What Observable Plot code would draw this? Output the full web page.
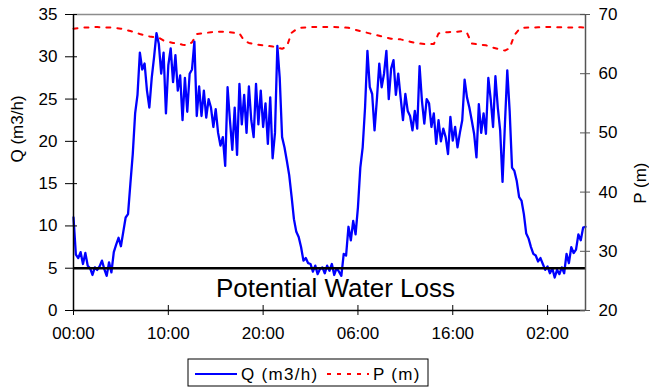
<!DOCTYPE html>
<html><head><meta charset="utf-8">
<script src="https://cdn.jsdelivr.net/npm/d3@7"></script>
<script src="https://cdn.jsdelivr.net/npm/@observablehq/plot@0.6"></script>
<style>
body{margin:0;background:#fff;font-family:"Liberation Sans",Arial,sans-serif;}
#chart svg{display:block;}
#legend{display:block;margin-left:187px;margin-top:2px;}
</style></head><body>
<div id="chart"></div>
<svg id="legend" width="243" height="30"></svg>
<script>
// Flow Q (m3/h), one reading every 15 minutes, from 00:00 on day 1 to 06:00 on day 3
const qStepHours = 0.25;
const qValues = [
 11.0,6.6,6.2,6.9,5.5,6.8,5.3,5.0,4.2,5.1,4.8,5.2,5.9,4.9,4.1,5.7,4.5,6.9,7.8,8.6,
 7.6,9.3,11.0,11.4,15.0,18.5,23.3,25.5,30.5,28.5,29.2,26.0,24.0,27.5,30.0,32.8,31.5,28.0,30.5,23.3,
 29.0,31.0,27.0,30.2,26.0,27.8,22.5,27.5,23.5,28.0,28.5,31.8,23.0,26.5,23.0,26.0,22.8,25.0,24.0,21.7,
 23.8,21.0,19.5,20.5,17.1,26.4,22.5,19.0,24.0,18.4,26.8,22.0,25.5,21.0,26.5,22.5,20.5,26.8,22.0,26.0,
 21.7,24.5,19.7,25.2,18.0,21.0,31.3,27.5,20.5,19.3,17.7,16.0,13.5,10.8,9.3,8.7,7.5,5.9,6.2,5.6,
 5.5,4.6,5.3,4.3,4.9,5.1,4.4,5.3,4.7,5.5,4.2,5.0,4.6,4.1,6.7,6.5,9.9,8.3,10.6,9.0,
 12.2,16.9,19.3,24.0,30.7,26.4,25.6,21.3,25.0,29.2,26.4,28.0,30.7,25.0,28.6,29.6,25.5,28.0,25.2,22.5,
 25.6,23.6,23.0,21.3,23.6,21.5,28.9,24.8,22.1,25.0,24.5,21.7,23.3,19.7,22.5,20.0,21.5,20.5,18.5,22.9,
 20.1,21.7,19.3,21.0,22.5,27.3,25.2,24.0,22.5,20.9,18.1,24.4,21.0,23.3,20.9,27.5,25.0,21.7,27.7,24.0,
 21.3,15.2,22.0,28.4,23.6,16.9,16.5,15.3,13.4,13.0,11.4,9.1,8.5,7.5,6.7,6.5,5.8,6.2,5.5,4.8,
 5.2,4.4,5.0,3.9,4.8,4.3,5.1,4.4,6.7,5.6,7.5,6.8,7.2,9.0,8.3,9.8,9.9
];
// Pressure P (m), one reading every 30 minutes
const pStepHours = 0.5;
const pValues = [
 67.6,67.7,67.8,67.8,67.9,67.9,67.8,67.8,67.8,67.7,67.6,67.4,67.2,67.0,66.7,66.5,66.3,66.2,66.1,65.6,
 65.4,65.2,65.1,64.9,64.8,65.3,66.7,66.8,66.9,67.0,67.1,67.1,67.1,67.0,66.9,66.8,65.6,65.2,65.0,64.9,
 64.8,64.7,64.6,64.4,64.2,64.6,66.9,67.5,67.75,67.8,67.9,67.9,67.9,67.9,67.9,67.9,67.85,67.8,67.75,67.5,
 67.3,67.1,66.9,66.7,66.5,66.3,66.1,65.9,65.9,65.8,65.6,65.4,65.2,65.1,65.0,65.0,65.0,66.8,67.0,67.0,
 67.1,67.1,67.2,66.9,65.1,65.0,64.9,64.8,64.5,64.3,64.1,63.9,64.3,66.5,67.5,67.75,67.8,67.8,67.85,67.85,
 67.9,67.9,67.85,67.85,67.8,67.8,67.85,67.85,67.8
];
const xDomainHours = [0, 54];
const xTickHours = [0, 10, 20, 30, 40, 50];
const xTickLabels = ["00:00", "10:00", "20:00", "06:00", "16:00", "02:00"];
const qDomain = [0, 35];
const qTicks = [0, 5, 10, 15, 20, 25, 30, 35];
const pDomain = [20, 70];
const pTicks = [20, 30, 40, 50, 60, 70];
const threshold = 5;
const qLabel = "Q (m3/h)";
const pLabel = "P (m)";
const annotation = "Potential Water Loss";

// map pressure onto the flow axis (secondary axis)
const pToQ = p => (p - pDomain[0]) * (qDomain[1] - qDomain[0]) / (pDomain[1] - pDomain[0]) + qDomain[0];
const qToP = q => (q - qDomain[0]) * (pDomain[1] - pDomain[0]) / (qDomain[1] - qDomain[0]) + pDomain[0];

const qData = qValues.map((v, i) => ({h: i * qStepHours, q: v}));
const pData = pValues.map((v, i) => ({h: i * pStepHours, p: v}));
const pTickPos = pTicks.map(pToQ);

const font = "'Liberation Sans', Arial, sans-serif";
const chart = Plot.plot({
  width: 649, height: 356,
  marginLeft: 73, marginRight: 64, marginTop: 14, marginBottom: 46,
  style: {fontFamily: font, fontSize: "17px", color: "#000", background: "#fff", overflow: "visible"},
  x: {domain: xDomainHours},
  y: {domain: qDomain},
  marks: [
    Plot.ruleY([qDomain[1]], {stroke: "#8c8c8c", strokeWidth: 1.5}),
    Plot.line(pData, {x: "h", y: d => pToQ(d.p), stroke: "#ff0000", strokeWidth: 2, strokeDasharray: "4,7"}),
    Plot.line(qData, {x: "h", y: "q", stroke: "#0000ff", strokeWidth: 2.3}),
    Plot.ruleY([threshold], {stroke: "#000", strokeWidth: 2.5}),
    Plot.ruleX([xDomainHours[1]], {stroke: "#555", strokeWidth: 1.5}),
    Plot.ruleY([qDomain[0]], {stroke: "#000", strokeWidth: 1.5}),
    Plot.ruleX([xDomainHours[0]], {stroke: "#000", strokeWidth: 1.5}),
    Plot.tickX(xTickHours, {x: d => d, insetTop: 291, insetBottom: -5, stroke: "#000"}),
    Plot.tickY(qTicks, {y: d => d, insetLeft: -8, insetRight: 508, stroke: "#000"}),
    Plot.tickY(pTickPos, {y: d => d, insetLeft: 507, insetRight: -5, stroke: "#555"}),
    Plot.axisX({ticks: xTickHours, tickFormat: d => xTickLabels[xTickHours.indexOf(d)], tickSize: 0, tickPadding: 16, label: null}),
    Plot.axisY({ticks: qTicks, tickSize: 0, tickPadding: 16, label: null}),
    Plot.axisY({anchor: "right", ticks: pTickPos, tickFormat: d => Math.round(qToP(d)), tickSize: 0, tickPadding: 13, label: null}),
    Plot.text([qLabel], {frameAnchor: "left", dx: -56, rotate: -90, fontSize: 17}),
    Plot.text([pLabel], {frameAnchor: "right", dx: 55, rotate: -90, fontSize: 17}),
    Plot.text([annotation], {frameAnchor: "bottom", dx: 6, dy: -14, fontSize: 26})
  ]
});
document.getElementById("chart").append(chart);

// legend below the chart
const lg = d3.select("#legend");
lg.append("rect").attr("x", 1).attr("y", 1).attr("width", 240).attr("height", 27)
  .attr("fill", "#fff").attr("stroke", "#000").attr("stroke-width", 1);
const legendItems = [
  {label: qLabel, color: "#0000ff", dash: null, x: 8},
  {label: pLabel, color: "#ff0000", dash: "4,6", x: 140}
];
legendItems.forEach(it => {
  lg.append("line").attr("x1", it.x).attr("x2", it.x + 42).attr("y1", 16).attr("y2", 16)
    .attr("stroke", it.color).attr("stroke-width", 2).attr("stroke-dasharray", it.dash);
  lg.append("text").attr("x", it.x + 46).attr("y", 16).attr("dy", "0.35em")
    .attr("font-family", font).attr("font-size", 17).attr("letter-spacing", "1.3px").text(it.label);
});
</script>
</body></html>
